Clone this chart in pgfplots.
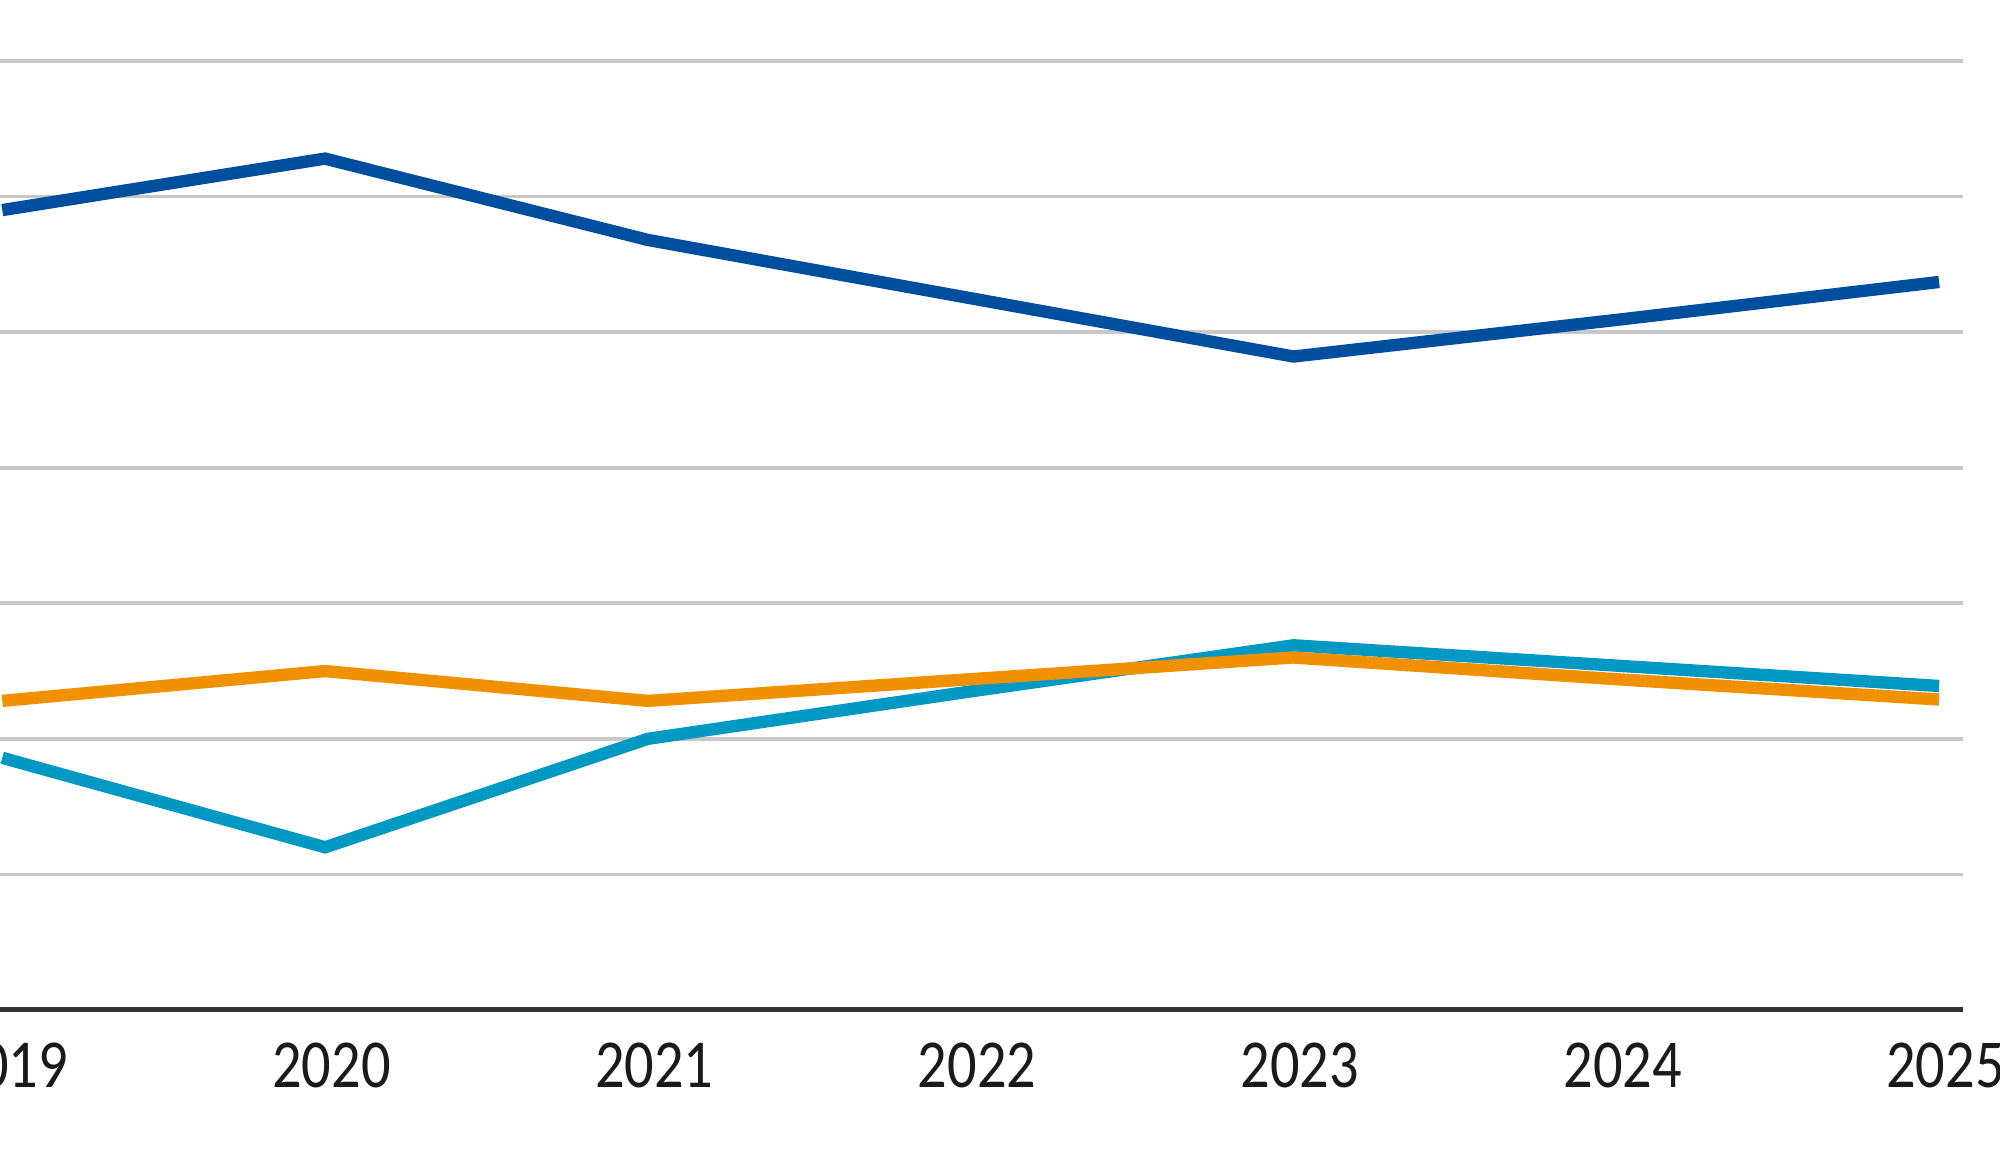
\documentclass[border=0pt]{standalone}
\usepackage{fontspec}
\setmainfont{Carlito}[FakeStretch=0.85]
\usepackage{pgfplots}
\pgfplotsset{compat=1.18}

\definecolor{darkblue}{HTML}{004F9F}
\definecolor{lightblue}{HTML}{0099C3}
\definecolor{orange}{HTML}{F29100}
\definecolor{gridgray}{HTML}{C8C8C8}
\definecolor{axisdark}{HTML}{333333}
\definecolor{labelblack}{HTML}{1A1A1A}

\begin{document}
\begin{tikzpicture}
% the reference is cut on its left side
\useasboundingbox (0,0) rectangle (600pt,349.5pt);
\clip (0,0) rectangle (600pt,349.5pt);

\begin{axis}[%
at={(-9.0pt,46.5pt)}, anchor=south west,
width=597.8pt,
height=284.7pt,
scale only axis,
xmin=2018.9, xmax=2025.073,
ymin=0, ymax=7,
axis x line*=bottom,
axis y line*=left,
x axis line style={draw=axisdark, line width=1.5pt},
y axis line style={draw=none},
xtick={2019,2020,2021,2022,2023,2024,2025},
xticklabels={2019,2020,2021,2022,2023,2024,2025},
ytick={1,2,3,4,5,6,7},
yticklabels={},
major tick length=0pt,
ymajorgrids,
grid style={draw=gridgray, line width=1.1pt},
xticklabel style={font=\fontsize{20.6}{24}\selectfont, text=labelblack, xshift=1.9pt, yshift=-6.4pt},
/pgf/number format/assume math mode=true,
clip=false]

\addplot [color=lightblue, line width=3.7pt]
coordinates{
(2019,1.86)(2020,1.20)(2021,2.00)(2022,2.35)(2023,2.69)(2024,2.54)(2025,2.39)
};

\addplot [color=orange, line width=3.7pt]
coordinates{
(2019,2.28)(2020,2.50)(2021,2.28)(2022,2.44)(2023,2.60)(2024,2.44)(2025,2.29)
};

\addplot [color=darkblue, line width=3.7pt]
coordinates{
(2019,5.90)(2020,6.28)(2021,5.68)(2022,5.25)(2023,4.82)(2024,5.09)(2025,5.37)
};

\end{axis}
\end{tikzpicture}
\end{document}
